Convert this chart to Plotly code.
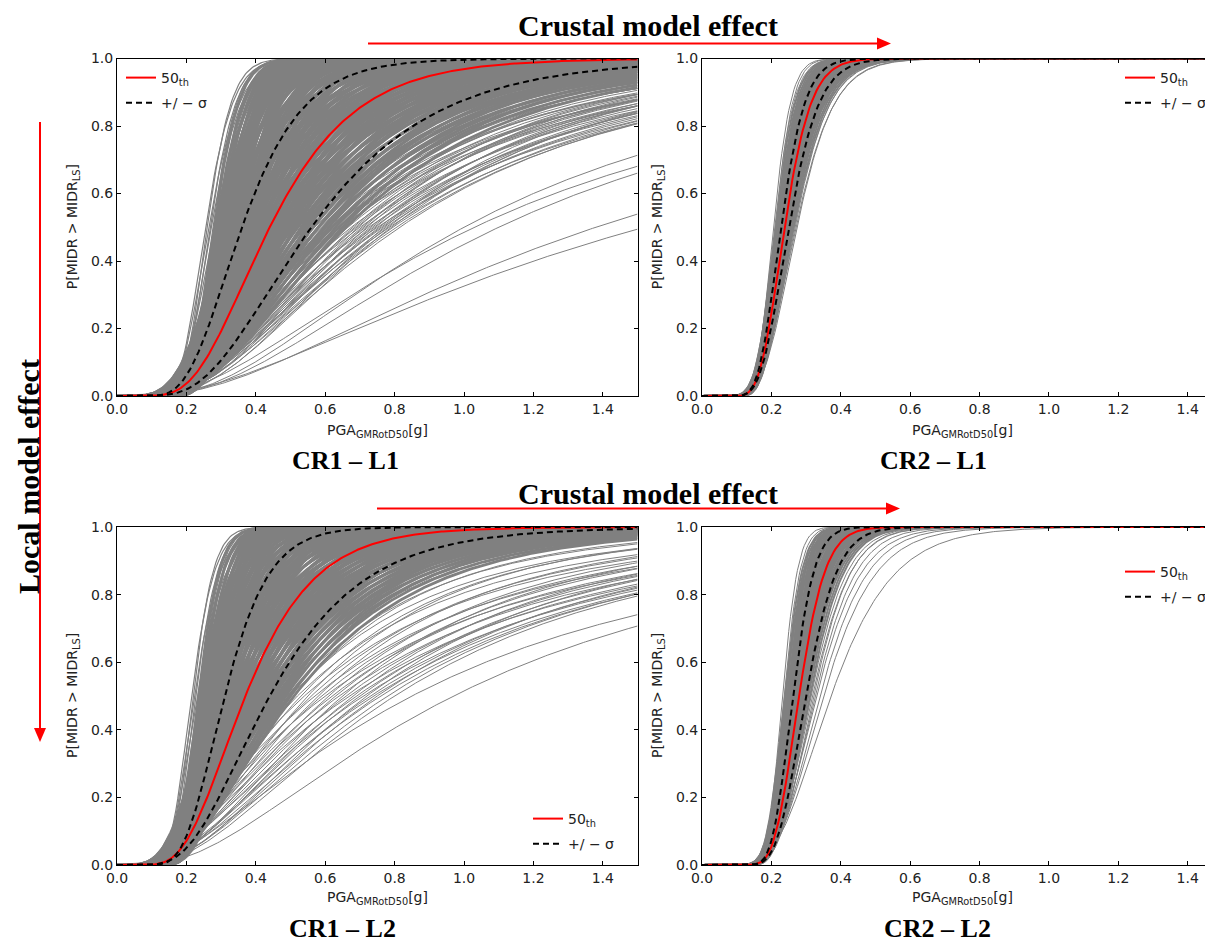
import math
import plotly.graph_objects as go

W, H = 1213, 944
OFF = 8  # page offset of the figure div (default body margin)

# ---------------- data: lognormal fragility parameters (median [g], dispersion) ----------------
# ---- CR1 - L1 ----
cr1_l1_left_theta = [0.255, 0.260, 0.264, 0.268, 0.272, 0.276, 0.280, 0.284, 0.288, 0.292, 0.296, 0.300,
                     0.305, 0.310, 0.316, 0.322]
cr1_l1_left_beta = [0.24, 0.21, 0.26, 0.22, 0.25, 0.20, 0.27, 0.23, 0.26, 0.21, 0.28, 0.24,
                    0.27, 0.22, 0.29, 0.25]
# core curves grouped by dispersion
cr1_l1_core_beta = [0.20, 0.22, 0.24, 0.26, 0.28, 0.30, 0.32, 0.36, 0.40, 0.44, 0.48, 0.52, 0.56, 0.60]
cr1_l1_core_theta = [
    [0.28, 0.29, 0.30, 0.31, 0.32, 0.33, 0.34],
    [0.285, 0.295, 0.305, 0.315, 0.325, 0.335, 0.345, 0.355],
    [0.29, 0.30, 0.31, 0.32, 0.33, 0.34, 0.35, 0.36],
    [0.295, 0.305, 0.315, 0.325, 0.335, 0.345, 0.355, 0.365, 0.375, 0.385],
    [0.30, 0.315, 0.33, 0.345, 0.36, 0.375, 0.39, 0.405],
    [0.30, 0.312, 0.324, 0.336, 0.348, 0.36, 0.372, 0.384, 0.396, 0.408, 0.42],
    [0.30, 0.315, 0.33, 0.345, 0.36, 0.375, 0.39, 0.405, 0.42, 0.435],
    [0.31, 0.325, 0.34, 0.355, 0.37, 0.385, 0.40, 0.415, 0.43, 0.445, 0.46],
    [0.32, 0.335, 0.35, 0.365, 0.38, 0.395, 0.41, 0.425, 0.44, 0.455, 0.47, 0.485],
    [0.33, 0.345, 0.36, 0.375, 0.39, 0.405, 0.42, 0.435, 0.45, 0.465, 0.48, 0.495, 0.51],
    [0.35, 0.365, 0.38, 0.395, 0.41, 0.425, 0.44, 0.455, 0.47, 0.485, 0.50, 0.515, 0.53, 0.545],
    [0.37, 0.385, 0.40, 0.415, 0.43, 0.445, 0.46, 0.475, 0.49, 0.505, 0.52, 0.535, 0.55, 0.565, 0.58, 0.60],
    [0.40, 0.415, 0.43, 0.445, 0.46, 0.475, 0.49, 0.505, 0.52, 0.535, 0.55, 0.565, 0.58, 0.595, 0.61, 0.63,
     0.65],
    [0.44, 0.46, 0.48, 0.50, 0.52, 0.54, 0.56, 0.58, 0.60, 0.62, 0.64, 0.66],
]
cr1_l1_fan_theta = [0.560, 0.570, 0.580, 0.590, 0.600, 0.605, 0.615, 0.625, 0.630, 0.640, 0.650, 0.655,
                    0.665, 0.675, 0.680, 0.690, 0.700, 0.705, 0.715, 0.725, 0.730, 0.740, 0.750, 0.755,
                    0.765, 0.775, 0.785, 0.795, 0.805, 0.815,
                    0.585, 0.610, 0.635, 0.660, 0.685, 0.710, 0.735, 0.760, 0.780, 0.645, 0.620, 0.695,
                    0.720, 0.745, 0.770, 0.790,
                    1.000, 1.030, 1.100, 1.380, 1.520]
cr1_l1_fan_beta = [0.62, 0.66, 0.58, 0.64, 0.68, 0.60, 0.66, 0.70, 0.62, 0.67, 0.72, 0.63,
                   0.69, 0.74, 0.65, 0.70, 0.75, 0.66, 0.71, 0.76, 0.67, 0.72, 0.77, 0.68,
                   0.73, 0.70, 0.74, 0.71, 0.72, 0.70,
                   0.70, 0.72, 0.74, 0.66, 0.68, 0.64, 0.66, 0.69, 0.66, 0.78, 0.76, 0.62,
                   0.61, 0.63, 0.62, 0.64,
                   0.72, 0.80, 0.75, 0.85, 0.93]

# ---- CR2 - L1 ----
cr2_l1_core_beta = [0.21, 0.23, 0.25, 0.27, 0.29]
cr2_l1_core_theta = [
    [0.212, 0.216, 0.220, 0.224, 0.228, 0.232, 0.236],
    [0.214, 0.218, 0.222, 0.226, 0.230, 0.234, 0.238, 0.242, 0.246],
    [0.218, 0.222, 0.226, 0.230, 0.234, 0.238, 0.242, 0.246, 0.250, 0.254],
    [0.224, 0.228, 0.232, 0.236, 0.240, 0.244, 0.248, 0.252, 0.256, 0.260],
    [0.232, 0.236, 0.240, 0.244, 0.248, 0.252, 0.256, 0.260, 0.264],
]
cr2_l1_fan_theta = [0.206, 0.209, 0.211, 0.265, 0.268, 0.271, 0.274]
cr2_l1_fan_beta = [0.19, 0.21, 0.19, 0.30, 0.29, 0.31, 0.30]

# ---- CR1 - L2 ----
cr1_l2_left_theta = [0.215, 0.219, 0.223, 0.227, 0.231, 0.235, 0.239, 0.243, 0.247, 0.251, 0.255, 0.259,
                     0.264, 0.269]
cr1_l2_left_beta = [0.24, 0.21, 0.26, 0.22, 0.28, 0.24, 0.20, 0.27, 0.23, 0.29, 0.25, 0.22,
                    0.28, 0.26]
cr1_l2_core_beta = [0.20, 0.22, 0.24, 0.26, 0.28, 0.30, 0.32, 0.36, 0.40, 0.44, 0.48, 0.52, 0.56, 0.60]
cr1_l2_core_theta = [
    [0.235, 0.245, 0.255, 0.265, 0.275, 0.285],
    [0.240, 0.250, 0.260, 0.270, 0.280, 0.290, 0.300],
    [0.245, 0.255, 0.265, 0.275, 0.285, 0.295, 0.305],
    [0.248, 0.258, 0.268, 0.278, 0.288, 0.298, 0.308, 0.318, 0.328],
    [0.250, 0.262, 0.274, 0.286, 0.298, 0.310, 0.322, 0.334],
    [0.252, 0.264, 0.276, 0.288, 0.300, 0.312, 0.324, 0.336, 0.348, 0.360],
    [0.255, 0.268, 0.281, 0.294, 0.307, 0.320, 0.333, 0.346, 0.359],
    [0.260, 0.273, 0.286, 0.299, 0.312, 0.325, 0.338, 0.351, 0.364, 0.377],
    [0.270, 0.283, 0.296, 0.309, 0.322, 0.335, 0.348, 0.361, 0.374, 0.387, 0.400],
    [0.280, 0.293, 0.306, 0.319, 0.332, 0.345, 0.358, 0.371, 0.384, 0.397, 0.410, 0.423],
    [0.290, 0.303, 0.316, 0.329, 0.342, 0.355, 0.368, 0.381, 0.394, 0.407, 0.420, 0.433, 0.446],
    [0.310, 0.323, 0.336, 0.349, 0.362, 0.375, 0.388, 0.401, 0.414, 0.427, 0.440, 0.453, 0.466, 0.480],
    [0.330, 0.343, 0.356, 0.369, 0.382, 0.395, 0.408, 0.421, 0.434, 0.447, 0.460, 0.473, 0.486, 0.500],
    [0.360, 0.375, 0.390, 0.405, 0.420, 0.435, 0.450, 0.465, 0.480, 0.495, 0.510],
]
cr1_l2_fan_theta = [0.480, 0.490, 0.500, 0.510, 0.520, 0.530, 0.540, 0.550, 0.560, 0.570, 0.580, 0.590,
                    0.600, 0.610, 0.620, 0.630, 0.640, 0.650, 0.660, 0.670, 0.680, 0.690, 0.700, 0.710,
                    0.720, 0.730, 0.740, 0.750, 0.760, 0.780, 0.800,
                    0.850, 0.970]
cr1_l2_fan_beta = [0.62, 0.68, 0.72, 0.64, 0.76, 0.69, 0.80, 0.66, 0.74, 0.83, 0.70, 0.78,
                   0.86, 0.72, 0.81, 0.75, 0.84, 0.70, 0.78, 0.86, 0.73, 0.81, 0.76, 0.84,
                   0.72, 0.79, 0.82, 0.75, 0.80, 0.77, 0.76,
                   0.88, 0.80]

# ---- CR2 - L2 ----
cr2_l2_core_beta = [0.17, 0.19, 0.21, 0.23, 0.25]
cr2_l2_core_theta = [
    [0.238, 0.242, 0.246, 0.250, 0.254, 0.258, 0.262, 0.266],
    [0.240, 0.245, 0.250, 0.255, 0.260, 0.265, 0.270, 0.275, 0.280],
    [0.248, 0.253, 0.258, 0.263, 0.268, 0.273, 0.278, 0.283, 0.288, 0.293],
    [0.258, 0.263, 0.268, 0.273, 0.278, 0.283, 0.288, 0.293, 0.298, 0.303],
    [0.270, 0.275, 0.280, 0.285, 0.290, 0.295, 0.300, 0.305, 0.310],
]
cr2_l2_fan_theta = [0.232, 0.236, 0.314, 0.318, 0.322, 0.326, 0.330, 0.340, 0.350, 0.372]
cr2_l2_fan_beta = [0.15, 0.16, 0.26, 0.27, 0.26, 0.28, 0.30, 0.31, 0.33, 0.37]

# summary curves: [50th, -sigma (left), +sigma (right)] as (median, dispersion)
summary_theta = {"CR1 – L1": [0.44, 0.36, 0.56], "CR2 – L1": [0.238, 0.228, 0.250],
                 "CR1 – L2": [0.37, 0.31, 0.44], "CR2 – L2": [0.280, 0.262, 0.300]}
summary_beta = {"CR1 – L1": [0.44, 0.38, 0.50], "CR2 – L1": [0.25, 0.235, 0.27],
                "CR1 – L2": [0.42, 0.32, 0.48], "CR2 – L2": [0.21, 0.185, 0.23]}

panel_names = ["CR1 – L1", "CR2 – L1", "CR1 – L2", "CR2 – L2"]


def rows_to_pairs(theta_rows, beta_row):
    th, be = [], []
    for b, row in zip(beta_row, theta_rows):
        th += row
        be += [b] * len(row)
    return th, be


core_sets = {
    "CR1 – L1": rows_to_pairs(cr1_l1_core_theta, cr1_l1_core_beta),
    "CR2 – L1": rows_to_pairs(cr2_l1_core_theta, cr2_l1_core_beta),
    "CR1 – L2": rows_to_pairs(cr1_l2_core_theta, cr1_l2_core_beta),
    "CR2 – L2": rows_to_pairs(cr2_l2_core_theta, cr2_l2_core_beta),
}
# (theta list, beta list, drawn line width)
gray_sets = {
    "CR1 – L1": [(core_sets["CR1 – L1"][0], core_sets["CR1 – L1"][1], 2.8),
                 (cr1_l1_left_theta, cr1_l1_left_beta, 1.2), (cr1_l1_fan_theta, cr1_l1_fan_beta, 1.0)],
    "CR2 – L1": [(core_sets["CR2 – L1"][0], core_sets["CR2 – L1"][1], 2.0),
                 (cr2_l1_fan_theta, cr2_l1_fan_beta, 1.0)],
    "CR1 – L2": [(core_sets["CR1 – L2"][0], core_sets["CR1 – L2"][1], 2.8),
                 (cr1_l2_left_theta, cr1_l2_left_beta, 1.2), (cr1_l2_fan_theta, cr1_l2_fan_beta, 1.0)],
    "CR2 – L2": [(core_sets["CR2 – L2"][0], core_sets["CR2 – L2"][1], 2.0),
                 (cr2_l2_fan_theta, cr2_l2_fan_beta, 1.0)],
}

x_ticks = [0.0, 0.2, 0.4, 0.6, 0.8, 1.0, 1.2, 1.4]
y_ticks = [0.0, 0.2, 0.4, 0.6, 0.8, 1.0]

# evaluation grid of the intensity measure
pga = [i * 0.005 for i in range(301)]


def cdf(x, th, b):
    if x <= 0:
        return 0.0
    return 0.5 * (1.0 + math.erf(math.log(x / th) / (b * math.sqrt(2.0))))


def px_x(p):
    return (p - OFF) / W


def px_y(p):
    return 1.0 - (p - OFF) / H


# ---------------- layout geometry (page pixels of the reference) ----------------
dom_x = {"L": [px_x(117), px_x(637.5)], "R": [px_x(702), px_x(1213)]}
dom_y = {"T": [px_y(396), px_y(58.5)], "B": [px_y(865), px_y(527)]}
panel_pos = {"CR1 – L1": ("L", "T"), "CR2 – L1": ("R", "T"), "CR1 – L2": ("L", "B"), "CR2 – L2": ("R", "B")}
legend_ids = {"CR1 – L1": "legend", "CR2 – L1": "legend2", "CR1 – L2": "legend3", "CR2 – L2": "legend4"}

fig = go.Figure()
axis_font = dict(family="DejaVu Sans", size=14, color="#222222")

for i, name in enumerate(panel_names):
    k = "" if i == 0 else str(i + 1)
    xa, ya = "x" + k, "y" + k
    for th_list, b_list, lw in gray_sets[name]:
        gx, gy = [], []
        for th, b in zip(th_list, b_list):
            gx += pga + [None]
            gy += [cdf(v, th, b) for v in pga] + [None]
        fig.add_trace(go.Scatter(x=gx, y=gy, mode="lines", line=dict(color="#808080", width=lw),
                                 xaxis=xa, yaxis=ya, showlegend=False, hoverinfo="skip"))
    sth, sb = summary_theta[name], summary_beta[name]
    lg = legend_ids[name]
    fig.add_trace(go.Scatter(x=pga, y=[cdf(v, sth[0], sb[0]) for v in pga], mode="lines",
                             line=dict(color="#ff0000", width=2), xaxis=xa, yaxis=ya,
                             name="50<sub>th</sub>", legend=lg, legendgroup="a" + k))
    for j in (1, 2):
        fig.add_trace(go.Scatter(x=pga, y=[cdf(v, sth[j], sb[j]) for v in pga], mode="lines",
                                 line=dict(color="#000000", width=2, dash="6px,4px"), xaxis=xa, yaxis=ya,
                                 name="+/ − σ", legend=lg, legendgroup="b" + k, showlegend=(j == 1)))
    cx, cy = panel_pos[name]
    right = cx == "R"
    fig.update_layout(**{
        ("xaxis" + k): dict(domain=dom_x[cx], anchor=ya, range=[0, 1.473 if right else 1.5],
                            tickvals=x_ticks, ticktext=["%.1f" % v for v in x_ticks],
                            ticks="inside", ticklen=4, tickwidth=1, tickcolor="black",
                            showline=True, linecolor="black", linewidth=1, mirror="ticks",
                            showgrid=False, zeroline=False, tickfont=axis_font),
        ("yaxis" + k): dict(domain=dom_y[cy], anchor=xa, range=[0, 1.0],
                            tickvals=y_ticks, ticktext=["%.1f" % v for v in y_ticks],
                            ticks="inside", ticklen=4, tickwidth=1, tickcolor="black",
                            showline=True, linecolor="black", linewidth=1,
                            mirror=False if right else "ticks",
                            showgrid=False, zeroline=False, tickfont=axis_font),
    })

# legends
leg_common = dict(font=dict(family="DejaVu Sans", size=14, color="#222222"), bgcolor="rgba(0,0,0,0)",
                  borderwidth=0, tracegroupgap=4, traceorder="grouped", itemwidth=30)
fig.update_layout(
    legend=dict(x=px_x(121), y=px_y(62), xanchor="left", yanchor="top", **leg_common),
    legend2=dict(x=px_x(1212), y=px_y(62), xanchor="right", yanchor="top", **leg_common),
    legend3=dict(x=px_x(620), y=px_y(860), xanchor="right", yanchor="bottom", **leg_common),
    legend4=dict(x=px_x(1212), y=px_y(556), xanchor="right", yanchor="top", **leg_common),
)

ann = []
serif = "Liberation Serif"
title_x = {"CR1 – L1": 345, "CR2 – L1": 933, "CR1 – L2": 343, "CR2 – L2": 937}
for name in panel_names:
    cx, cy = panel_pos[name]
    xc = px_x(377) if cx == "L" else px_x(962)
    ty = 431 if cy == "T" else 898
    ann.append(dict(x=xc, y=px_y(ty), xref="paper", yref="paper", text="PGA<sub>GMRotD50</sub>[g]",
                    showarrow=False, font=axis_font, xanchor="center", yanchor="middle"))
    yx = 73 if cx == "L" else 658
    ann.append(dict(x=px_x(yx), y=sum(dom_y[cy]) / 2, xref="paper", yref="paper",
                    text="P[MIDR > MIDR<sub>LS</sub>]", textangle=-90, showarrow=False, font=axis_font,
                    xanchor="center", yanchor="middle"))
    tyy = 460 if cy == "T" else 928
    ann.append(dict(x=px_x(title_x[name]), y=px_y(tyy), xref="paper", yref="paper", text="<b>%s</b>" % name,
                    showarrow=False, font=dict(family=serif, size=26, color="black"),
                    xanchor="center", yanchor="middle"))

for yy in (25, 493):
    ann.append(dict(x=px_x(648), y=px_y(yy), xref="paper", yref="paper", text="<b>Crustal model effect</b>",
                    showarrow=False, font=dict(family=serif, size=30, color="black"),
                    xanchor="center", yanchor="middle"))
ann.append(dict(x=px_x(28), y=px_y(477), xref="paper", yref="paper", text="<b>Local model effect</b>",
                textangle=-90, showarrow=False, font=dict(family=serif, size=30, color="black"),
                xanchor="center", yanchor="middle"))

shapes = []


def harrow(x0, x1, y):
    shapes.append(dict(type="line", xref="paper", yref="paper", x0=px_x(x0), x1=px_x(x1 - 12),
                       y0=px_y(y), y1=px_y(y), line=dict(color="#ff0000", width=2)))
    shapes.append(dict(type="path", xref="paper", yref="paper",
                       path="M %f %f L %f %f L %f %f Z" % (px_x(x1 - 14), px_y(y - 6), px_x(x1), px_y(y),
                                                           px_x(x1 - 14), px_y(y + 6)),
                       fillcolor="#ff0000", line=dict(color="#ff0000", width=0)))


def varrow(x, y0, y1):
    shapes.append(dict(type="line", xref="paper", yref="paper", x0=px_x(x), x1=px_x(x),
                       y0=px_y(y0), y1=px_y(y1 - 12), line=dict(color="#ff0000", width=2)))
    shapes.append(dict(type="path", xref="paper", yref="paper",
                       path="M %f %f L %f %f L %f %f Z" % (px_x(x - 6), px_y(y1 - 14), px_x(x), px_y(y1),
                                                           px_x(x + 6), px_y(y1 - 14)),
                       fillcolor="#ff0000", line=dict(color="#ff0000", width=0)))


harrow(368, 891, 43.5)
harrow(377, 900, 508.5)
varrow(40, 122, 742)

fig.update_layout(width=W, height=H, margin=dict(l=0, r=0, t=0, b=0, autoexpand=False), autosize=False,
                  paper_bgcolor="white", plot_bgcolor="white", annotations=ann, shapes=shapes,
                  font=dict(family="DejaVu Sans"))

fig.write_html("out.html")
